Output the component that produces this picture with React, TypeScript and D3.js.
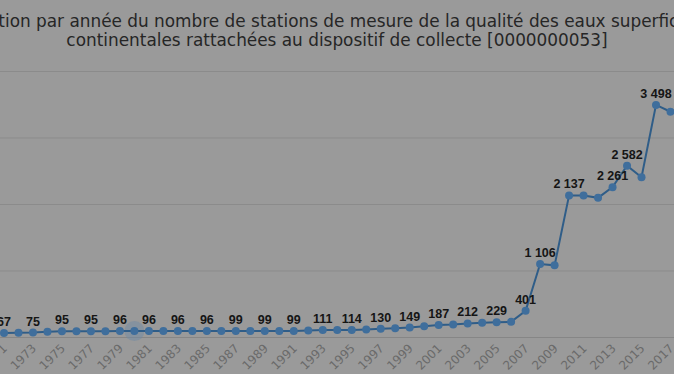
import React, { useLayoutEffect, useRef, useState } from 'react';
import * as d3 from 'd3';

const years = d3.range(1971, 2018);
const stations = [
  67, 70, 75, 85, 95, 95, 95, 95, 96, 96,
  96, 96, 96, 96, 96, 96, 99, 99, 99, 99,
  99, 105, 111, 112, 114, 120, 130, 140, 149, 170,
  187, 195, 212, 220, 229, 235, 401, 1106, 1085, 2137,
  2137, 2100, 2261, 2582, 2410, 3498, 3395,
];
// years whose value label is shown (others hidden by overlap)
const labelledYears = [
  1971, 1973, 1975, 1977, 1979, 1981, 1983, 1985, 1987, 1989, 1991, 1993,
  1995, 1997, 1999, 2001, 2003, 2005, 2007, 2008, 2010, 2013, 2014, 2016,
];
const tickYears = d3.range(1971, 2018, 2);
const gridValues = [1000, 2000, 3000, 4000];
const titleLines = [
  'Évolution par année du nombre de stations de mesure de la qualité des eaux superficielles',
  'continentales rattachées au dispositif de collecte [0000000053]',
];
const hoverYear = 1980;

const width = 674;
const height = 374;
// width of the second title line in the reference
const title2Width = 541;

const fmt = (v: number) => d3.format(',')(v).replace(/,/g, ' ');

export default function App() {
  const line2Ref = useRef<SVGTextElement>(null);
  const [sx, setSx] = useState(0.9);

  useLayoutEffect(() => {
    if (line2Ref.current) {
      const len = line2Ref.current.getComputedTextLength();
      if (len > 0) setSx(title2Width / len);
    }
  }, []);

  const x = d3.scaleLinear().domain([1971, 2017]).range([4, 670.5]);
  const y = d3.scaleLinear().domain([0, 4000]).range([337.5, 71.5]);
  const line = d3
    .line<number>()
    .x((_, i) => x(years[i]))
    .y((d) => y(d));

  return (
    <svg
      width={width}
      height={height}
      style={{ position: 'absolute', left: 0, top: 0, background: '#9a9a9a' }}
      fontFamily='"DejaVu Sans", sans-serif'
    >
      {titleLines.map((t, i) => (
        <g key={i} transform={`translate(337,${27 + i * 19}) scale(${sx},1)`}>
          <text ref={i === 1 ? line2Ref : undefined} textAnchor="middle" fontSize={17.5} fill="#262626">
            {t}
          </text>
        </g>
      ))}

      {gridValues.map((v) => (
        <line key={v} x1={0} x2={width} y1={y(v)} y2={y(v)} stroke="#8b8b8b" strokeWidth={1} />
      ))}
      <line x1={0} x2={width} y1={y(0)} y2={y(0)} stroke="#868686" strokeWidth={1} />

      {tickYears.map((yr) => (
        <text
          key={yr}
          transform={`translate(${x(yr) + 4},${349}) rotate(-45)`}
          textAnchor="end"
          fontSize={12}
          fill="#6a6a6a"
        >
          {yr}
        </text>
      ))}

      <circle cx={x(hoverYear)} cy={y(stations[years.indexOf(hoverYear)])} r={10} fill="#6f8aa3" opacity={0.5} />

      <path d={line(stations) ?? ''} fill="none" stroke="#2f5d88" strokeWidth={2} />
      {stations.map((v, i) => (
        <circle key={i} cx={x(years[i])} cy={y(v)} r={4} fill="#3f6e9c" />
      ))}

      {labelledYears.map((yr) => {
        const v = stations[years.indexOf(yr)];
        return (
          <text
            key={yr}
            x={x(yr)}
            y={y(v) - 7}
            textAnchor="middle"
            fontSize={12.5}
            fontWeight="bold"
            fill="#151515"
            fontFamily='"Liberation Sans", Arial, sans-serif'
          >
            {fmt(v)}
          </text>
        );
      })}
    </svg>
  );
}
